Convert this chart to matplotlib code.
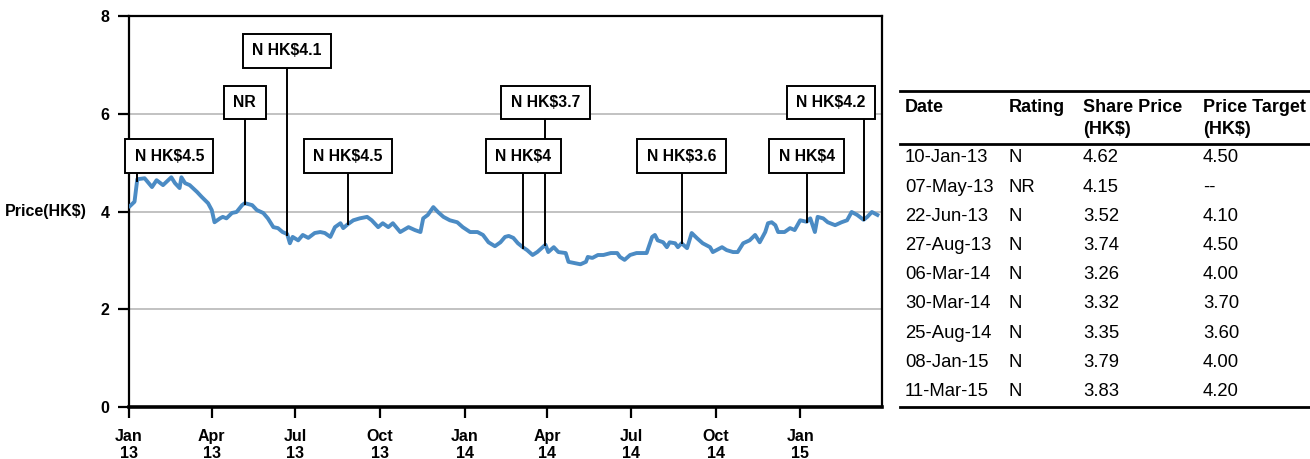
import matplotlib
matplotlib.use("Agg")
import matplotlib.pyplot as plt
import matplotlib.dates as mdates
import pandas as pd

plt.rcParams['font.family'] = ['Liberation Sans', 'DejaVu Sans']

# share price
price_dates = [
    "2013-01-02", "2013-01-07", "2013-01-10", "2013-01-18", "2013-01-26", "2013-01-31",
    "2013-02-07", "2013-02-16", "2013-02-20", "2013-02-25", "2013-02-27", "2013-03-03",
    "2013-03-08", "2013-03-16", "2013-03-21", "2013-03-28", "2013-04-01", "2013-04-04",
    "2013-04-10", "2013-04-13", "2013-04-17", "2013-04-23", "2013-04-28", "2013-05-04",
    "2013-05-07", "2013-05-15", "2013-05-20", "2013-05-27", "2013-06-01", "2013-06-07",
    "2013-06-12", "2013-06-17", "2013-06-22", "2013-06-25", "2013-06-28", "2013-07-04",
    "2013-07-09", "2013-07-15", "2013-07-22", "2013-07-28", "2013-08-02", "2013-08-08",
    "2013-08-13", "2013-08-19", "2013-08-22", "2013-08-27", "2013-09-02", "2013-09-09",
    "2013-09-17", "2013-09-22", "2013-09-29", "2013-10-04", "2013-10-10", "2013-10-15",
    "2013-10-23", "2013-11-01", "2013-11-08", "2013-11-14", "2013-11-17", "2013-11-22",
    "2013-11-28", "2013-12-03", "2013-12-09", "2013-12-16", "2013-12-24", "2013-12-30",
    "2014-01-07", "2014-01-15", "2014-01-21", "2014-01-27", "2014-02-03", "2014-02-09",
    "2014-02-14", "2014-02-18", "2014-02-23", "2014-02-28", "2014-03-06", "2014-03-10",
    "2014-03-16", "2014-03-21", "2014-03-27", "2014-03-30", "2014-04-02", "2014-04-08",
    "2014-04-13", "2014-04-21", "2014-04-24", "2014-05-02", "2014-05-07", "2014-05-13",
    "2014-05-15", "2014-05-20", "2014-05-26", "2014-06-01", "2014-06-09", "2014-06-16",
    "2014-06-19", "2014-06-24", "2014-06-30", "2014-07-07", "2014-07-18", "2014-07-24",
    "2014-07-27", "2014-07-30", "2014-08-05", "2014-08-09", "2014-08-12", "2014-08-18",
    "2014-08-21", "2014-08-25", "2014-08-31", "2014-09-05", "2014-09-11", "2014-09-17",
    "2014-09-25", "2014-09-28", "2014-10-08", "2014-10-13", "2014-10-20", "2014-10-25",
    "2014-10-31", "2014-11-07", "2014-11-13", "2014-11-18", "2014-11-24", "2014-11-27",
    "2014-12-01", "2014-12-05", "2014-12-08", "2014-12-15", "2014-12-21", "2014-12-26",
    "2015-01-01", "2015-01-08", "2015-01-12", "2015-01-17", "2015-01-20", "2015-01-26",
    "2015-01-31", "2015-02-08", "2015-02-15", "2015-02-21", "2015-02-26", "2015-03-04",
    "2015-03-11", "2015-03-15", "2015-03-20", "2015-03-26",
]
price_values = [
    4.11, 4.20, 4.66, 4.68, 4.50, 4.64,
    4.54, 4.70, 4.58, 4.48, 4.70, 4.58,
    4.54, 4.40, 4.30, 4.17, 4.03, 3.78,
    3.86, 3.89, 3.86, 3.97, 3.99, 4.13,
    4.17, 4.13, 4.03, 3.97, 3.86, 3.68,
    3.66, 3.58, 3.54, 3.35, 3.48, 3.41,
    3.52, 3.46, 3.56, 3.58, 3.56, 3.48,
    3.68, 3.76, 3.66, 3.74, 3.82, 3.86,
    3.89, 3.82, 3.68, 3.76, 3.68, 3.76,
    3.58, 3.68, 3.62, 3.58, 3.86, 3.93,
    4.09, 3.99, 3.89, 3.82, 3.78, 3.68,
    3.58, 3.58, 3.52, 3.37, 3.29, 3.37,
    3.48, 3.50, 3.46, 3.35, 3.26, 3.21,
    3.11, 3.17, 3.27, 3.32, 3.17, 3.27,
    3.17, 3.15, 2.97, 2.94, 2.92, 2.97,
    3.07, 3.05, 3.11, 3.11, 3.15, 3.15,
    3.07, 3.01, 3.11, 3.15, 3.15, 3.48,
    3.52, 3.41, 3.37, 3.27, 3.37, 3.35,
    3.27, 3.35, 3.25, 3.56, 3.45, 3.35,
    3.27, 3.17, 3.27, 3.21, 3.17, 3.17,
    3.35, 3.41, 3.52, 3.37, 3.58, 3.76,
    3.78, 3.72, 3.58, 3.58, 3.66, 3.62,
    3.82, 3.79, 3.86, 3.58, 3.89, 3.86,
    3.78, 3.72, 3.78, 3.82, 3.99, 3.93,
    3.83, 3.89, 3.99, 3.93,
]

# rating history
rating_dates = ["2013-01-10", "2013-05-07", "2013-06-22", "2013-08-27", "2014-03-06",
                "2014-03-30", "2014-08-25", "2015-01-08", "2015-03-11"]
rating_labels = ["10-Jan-13", "07-May-13", "22-Jun-13", "27-Aug-13", "06-Mar-14",
                 "30-Mar-14", "25-Aug-14", "08-Jan-15", "11-Mar-15"]
ratings = ["N", "NR", "N", "N", "N", "N", "N", "N", "N"]
share_prices = [4.62, 4.15, 3.52, 3.74, 3.26, 3.32, 3.35, 3.79, 3.83]
price_targets = ["4.50", "--", "4.10", "4.50", "4.00", "3.70", "3.60", "4.00", "4.20"]
box_texts = ["N HK$4.5", "NR", "N HK$4.1", "N HK$4.5", "N HK$4",
             "N HK$3.7", "N HK$3.6", "N HK$4", "N HK$4.2"]

# layout of the callout boxes
box_row = [0, 1, 2, 0, 0, 1, 0, 0, 1]
row_level = [5.13, 6.23, 7.29]
box_shift = [32, 0, 0, 0, 0, 0, 0, 0, -33]

LINE_BLUE = "#4b8bc4"

fig = plt.figure(figsize=(13.1, 4.59), dpi=100)
ax = fig.add_axes([129 / 1310, 52 / 459, 753 / 1310, 391 / 459])

dates = pd.to_datetime(price_dates)
ax.plot(dates, price_values, color=LINE_BLUE, lw=2.8, zorder=3, solid_joinstyle="round")

rdates = pd.to_datetime(rating_dates)
for d, p, r, t, dx in zip(rdates, share_prices, box_row, box_texts, box_shift):
    lvl = row_level[r]
    ax.plot([d, d], [p, lvl], color="black", lw=1.4, zorder=4)
    ax.annotate(t, xy=(d, lvl), xytext=(dx, 0), textcoords="offset pixels",
                ha="center", va="center", fontsize=11.3, fontweight="bold",
                bbox=dict(boxstyle="square,pad=0.6", fc="white", ec="black", lw=1.4),
                zorder=6)

ax.set_ylim(0, 8)
ax.set_yticks([0, 2, 4, 6, 8])
ax.set_xlim(pd.Timestamp("2013-01-01"), pd.Timestamp("2015-03-31"))
ax.xaxis.set_major_locator(mdates.MonthLocator(bymonth=[1, 4, 7, 10]))
ax.xaxis.set_major_formatter(mdates.DateFormatter("%b\n%y"))

for y in [2, 4, 6]:
    ax.axhline(y, color="#bdbdbd", lw=1.3, zorder=1)

for s in ["left", "top", "right"]:
    ax.spines[s].set_linewidth(1.6)
ax.spines["bottom"].set_linewidth(2.6)

ax.tick_params(axis="both", direction="out", length=8, width=1.6, colors="black",
               labelsize=11.5)
ax.tick_params(axis="y", pad=6)
ax.tick_params(axis="x", pad=8)
for lab in ax.get_xticklabels() + ax.get_yticklabels():
    lab.set_fontweight("bold")
for lab in ax.get_xticklabels():
    lab.set_linespacing(1.15)
ax.set_ylabel("Price(HK$)", rotation=0, fontsize=11.5, fontweight="bold",
              va="center", ha="right", labelpad=10)

# rating table on the right
tab = fig.add_axes([0, 0, 1, 1], facecolor="none")
tab.set_xlim(0, 1310)
tab.set_ylim(459, 0)
tab.axis("off")

col_x = [905, 1009, 1083, 1203]
tab.plot([900, 1310], [91, 91], color="black", lw=2)
tab.plot([900, 1310], [144, 144], color="black", lw=2)
tab.plot([900, 1310], [407, 407], color="black", lw=2)

hdr = dict(fontsize=13, fontweight="bold", va="center", ha="left")
tab.text(col_x[0], 108, "Date", **hdr)
tab.text(col_x[1], 108, "Rating", **hdr)
tab.text(col_x[2], 108, "Share Price", **hdr)
tab.text(col_x[2], 129, "(HK$)", **hdr)
tab.text(col_x[3], 108, "Price Target", **hdr)
tab.text(col_x[3], 129, "(HK$)", **hdr)

for i in range(len(rating_labels)):
    y = 158 + i * 29.2
    row = [rating_labels[i], ratings[i], f"{share_prices[i]:.2f}", price_targets[i]]
    for x, txt in zip(col_x, row):
        tab.text(x, y, txt, fontsize=13.3, va="center", ha="left")

fig.savefig("out.png", dpi=100)
